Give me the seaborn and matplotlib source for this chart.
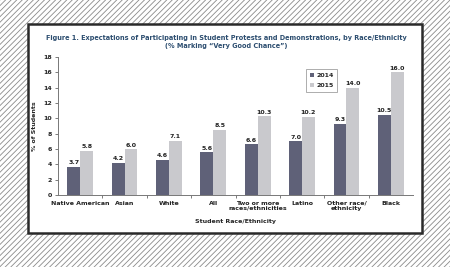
import matplotlib
matplotlib.use("Agg")
import matplotlib.pyplot as plt
from matplotlib.patches import Rectangle
import numpy as np
import pandas as pd
import seaborn as sns

categories = ["Native American", "Asian", "White", "All", "Two or more\nraces/ethnicities",
              "Latino", "Other race/\nethnicity", "Black"]
vals_2014 = [3.7, 4.2, 4.6, 5.6, 6.6, 7.0, 9.3, 10.5]
vals_2015 = [5.8, 6.0, 7.1, 8.5, 10.3, 10.2, 14.0, 16.0]
years = ["2014", "2015"]
colors = ["#5f6178", "#c9c9cd"]

df = pd.DataFrame({
    "cat": categories * 2,
    "year": [years[0]] * len(categories) + [years[1]] * len(categories),
    "val": vals_2014 + vals_2015,
})

sns.set_style("white")
plt.rcParams["font.family"] = ["DejaVu Sans"]
plt.rcParams["hatch.linewidth"] = 0.6

fig = plt.figure(figsize=(4.5, 2.67), dpi=100)

# hatched background + white panel
bg = Rectangle((0, 0), 1, 1, transform=fig.transFigure, facecolor="white",
               edgecolor="#8a8a8a", hatch="//////", linewidth=0, zorder=-10)
fig.patches.append(bg)
panel = Rectangle((28 / 450, 1 - 233 / 267), 394 / 450, 209 / 267, transform=fig.transFigure,
                  facecolor="white", edgecolor="#2a2a2a", linewidth=1.8, zorder=-5)
fig.patches.append(panel)

ax = fig.add_axes([58 / 450, 1 - 195 / 267, 355 / 450, 138 / 267])
ax.patch.set_alpha(0)
sns.barplot(data=df, x="cat", y="val", hue="year", palette=colors, width=0.58,
            ax=ax, saturation=1, edgecolor="none")

for cont in ax.containers:
    ax.bar_label(cont, fmt="%.1f", fontsize=4.5, fontweight="bold", padding=1, color="#222222")

ax.set_ylim(0, 18)
ax.set_yticks(np.arange(0, 19, 2))
ax.set_xlim(-0.5, len(categories) - 0.5)
ax.set_xticks(range(len(categories)))
ax.set_xticklabels(categories, fontsize=4.5, fontweight="bold", color="#222222", linespacing=1.0)
ax.set_xticks(np.arange(0.5, len(categories) - 0.5, 1), minor=True)
ax.tick_params(axis="x", which="major", length=0, pad=4)
ax.tick_params(axis="x", which="minor", bottom=True, length=2.5, width=0.6, color="#666666",
               direction="out")
ax.tick_params(axis="y", labelsize=4.5, length=2.5, width=0.6, color="#666666", left=True, pad=2)
for lab in ax.get_yticklabels():
    lab.set_fontweight("bold")
ax.set_ylabel("% of Students", fontsize=4.5, fontweight="bold", labelpad=4)
ax.set_xlabel("Student Race/Ethnicity", fontsize=4.5, fontweight="bold", labelpad=6)
sns.despine(ax=ax)
for s in ["left", "bottom"]:
    ax.spines[s].set_color("#777777")
    ax.spines[s].set_linewidth(0.7)

leg = ax.legend(loc="upper left", bbox_to_anchor=(0.69, 0.935), fontsize=4.5, frameon=True,
                handlelength=0.6, handleheight=0.6, handletextpad=0.4, borderpad=0.6,
                labelspacing=0.8, fancybox=False)
leg.get_frame().set_edgecolor("#888888")
leg.get_frame().set_linewidth(0.6)
for t in leg.get_texts():
    t.set_fontweight("bold")

fig.text(226 / 450, 1 - 38 / 267,
         "Figure 1. Expectations of Participating in Student Protests and Demonstrations, by Race/Ethnicity",
         ha="center", va="center", fontsize=4.7, fontweight="bold", color="#2d4e70")
fig.text(226 / 450, 1 - 46 / 267, "(% Marking \u201cVery Good Chance\u201d)",
         ha="center", va="center", fontsize=4.7, fontweight="bold", color="#2d4e70")

fig.savefig("out.png", dpi=100)
